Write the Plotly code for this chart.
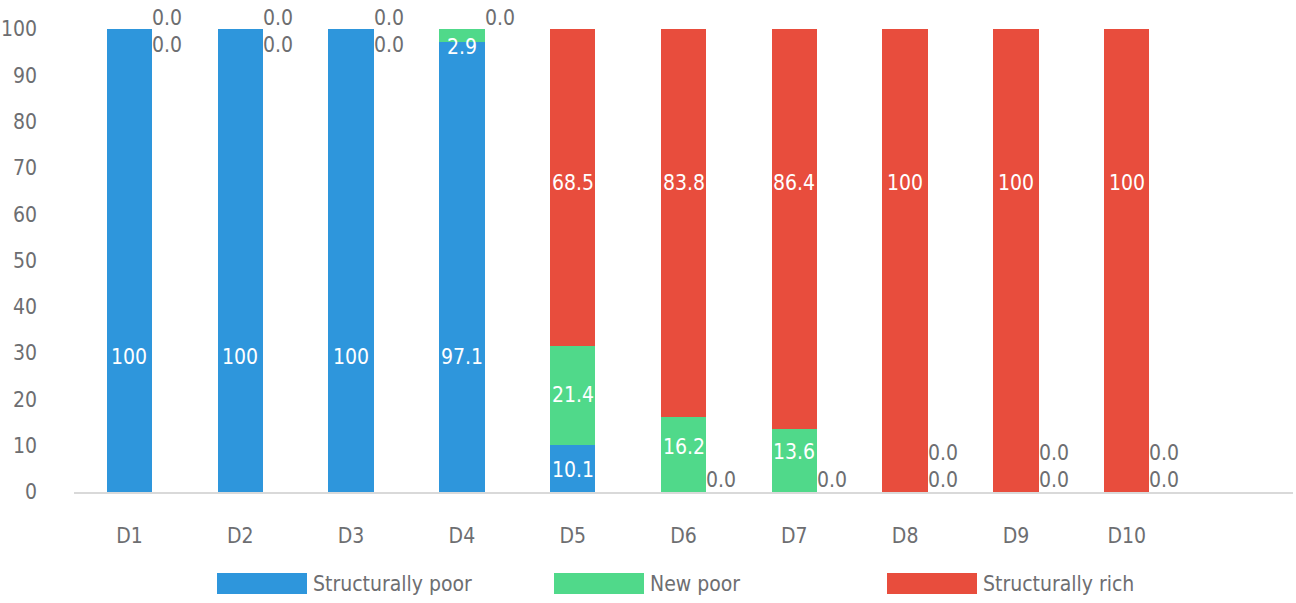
import plotly.graph_objects as go

# Decile groups and the share (%) of each poverty status within them
categories = ["D1", "D2", "D3", "D4", "D5", "D6", "D7", "D8", "D9", "D10"]
structurally_poor = [100, 100, 100, 97.1, 10.1, 0, 0, 0, 0, 0]
new_poor = [0, 0, 0, 2.9, 21.4, 16.2, 13.6, 0, 0, 0]
structurally_rich = [0, 0, 0, 0, 68.5, 83.8, 86.4, 100, 100, 100]
y_ticks = [0, 10, 20, 30, 40, 50, 60, 70, 80, 90, 100]

series = [
    ("Structurally poor", structurally_poor, "#2E96DC"),
    ("New poor", new_poor, "#50D98A"),
    ("Structurally rich", structurally_rich, "#E84D3D"),
]

# Height (in axis units) at which each series' inside label sits
label_y = {
    "Structurally poor": [29.2, 29.2, 29.2, 29.2, 4.8, None, None, None, None, None],
    "New poor": [None, None, None, 96.1, 20.9, 9.7, 8.6, None, None, None],
    "Structurally rich": [None, None, None, None, 66.7, 66.7, 66.7, 66.7, 66.7, 66.7],
}

FONT = "DejaVu Sans Condensed"
FS = 21
GREY = "#6D6E71"
BAR_W = 0.41
x_pos = list(range(len(categories)))


def fmt(v):
    return "100" if v == 100 else f"{v:.1f}"


def font(color, size=FS):
    return dict(family=FONT, size=size, color=color)


fig = go.Figure()
for name, vals, color in series:
    fig.add_trace(go.Bar(
        x=x_pos, y=vals, name=name, width=BAR_W,
        marker=dict(color=color, line=dict(width=0)),
        showlegend=False, hoverinfo="skip",
    ))

annotations = []
for i in x_pos:
    vals = [s[1][i] for s in series]
    # inside labels for non-zero segments
    for (name, v, _c) in series:
        if v[i] != 0:
            annotations.append(dict(
                x=i, y=label_y[name][i], text=fmt(v[i]), showarrow=False,
                font=font("white"), xanchor="center", yanchor="middle",
            ))
    # zero-value segments get their labels just right of the bar:
    # those sitting at the bottom stack upward, those at the top stack downward
    bottom_zeros = []
    for k, v in enumerate(vals):
        if v == 0 and sum(vals[:k]) == 0:
            bottom_zeros.append(k)
    top_zeros = [k for k, v in enumerate(vals) if v == 0 and k not in bottom_zeros]
    for n, k in enumerate(bottom_zeros):
        annotations.append(dict(
            x=i + BAR_W / 2, y=0, text=fmt(vals[k]), showarrow=False,
            font=font(GREY), xanchor="left", yanchor="middle",
            xshift=-2, yshift=12 + 27 * n,
        ))
    for n, k in enumerate(reversed(top_zeros)):
        annotations.append(dict(
            x=i + BAR_W / 2, y=100, text=fmt(vals[k]), showarrow=False,
            font=font(GREY), xanchor="left", yanchor="middle",
            xshift=-2, yshift=11 - 27 * n,
        ))

# Custom legend with wide colour swatches below the axis
PLOT_L, PLOT_W, PLOT_B, PLOT_H = 74, 1219, 492, 463
legend_x = [217, 554, 887]
shapes = []
for (name, _v, color), px in zip(series, legend_x):
    x0 = (px - PLOT_L) / PLOT_W
    x1 = (px + 90 - PLOT_L) / PLOT_W
    shapes.append(dict(
        type="rect", xref="paper", yref="paper",
        x0=x0, x1=x1, y0=(PLOT_B - 594) / PLOT_H, y1=(PLOT_B - 573) / PLOT_H,
        fillcolor=color, line=dict(width=0),
    ))
    annotations.append(dict(
        xref="paper", yref="paper", x=(px + 94 - PLOT_L) / PLOT_W,
        y=(PLOT_B - 583.5) / PLOT_H, text=name, showarrow=False,
        xanchor="left", yanchor="middle", font=font(GREY),
    ))

fig.update_layout(
    barmode="stack",
    width=1296, height=603,
    margin=dict(l=PLOT_L, r=1296 - PLOT_L - PLOT_W, t=PLOT_B - PLOT_H, b=603 - PLOT_B),
    paper_bgcolor="white", plot_bgcolor="white",
    font=font(GREY),
    annotations=annotations, shapes=shapes,
    showlegend=False,
)
fig.update_xaxes(
    range=[-0.5, 10.5], tickvals=x_pos, ticktext=categories,
    showgrid=False, zeroline=False, showline=True, automargin=False,
    linecolor="#D9D9D9", linewidth=2, ticks="", ticklabelstandoff=24,
    tickfont=font(GREY),
)
fig.update_yaxes(
    range=[0, 100], tickvals=y_ticks, showgrid=False, zeroline=False,
    showline=False, ticks="", ticklabelstandoff=36, automargin=False,
    tickfont=font(GREY),
)

fig.write_html("out.html")
